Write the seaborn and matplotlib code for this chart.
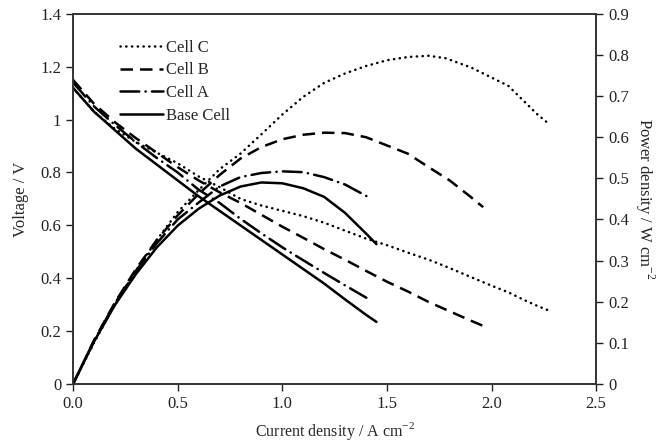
"""
Polarisation and power density curves for base cell and cells A-C.
"""
import matplotlib
matplotlib.use("Agg")
import matplotlib.pyplot as plt
import seaborn as sns
import pandas as pd

# current density / A cm-2, voltage / V, power density / W cm-2
base_i = [0.0, 0.1, 0.2, 0.3, 0.4, 0.5, 0.6, 0.7, 0.8, 0.9, 1.0, 1.1, 1.2, 1.3, 1.4, 1.45]
base_v = [1.12, 1.03, 0.96, 0.89, 0.83, 0.77, 0.71, 0.655, 0.60, 0.545, 0.49, 0.435, 0.38, 0.32, 0.262, 0.235]
base_p = [0.0, 0.103, 0.192, 0.267, 0.332, 0.385, 0.426, 0.458, 0.48, 0.49, 0.488, 0.476, 0.455, 0.416, 0.366, 0.34]

a_i = [0.0, 0.1, 0.2, 0.3, 0.4, 0.5, 0.6, 0.7, 0.8, 0.9, 1.0, 1.1, 1.2, 1.3, 1.42]
a_v = [1.14, 1.05, 0.98, 0.915, 0.855, 0.80, 0.735, 0.685, 0.625, 0.57, 0.517, 0.468, 0.42, 0.373, 0.318]
a_p = [0.0, 0.105, 0.196, 0.275, 0.342, 0.40, 0.441, 0.48, 0.503, 0.513, 0.517, 0.515, 0.503, 0.485, 0.452]

b_i = [0.0, 0.1, 0.2, 0.3, 0.4, 0.5, 0.6, 0.7, 0.8, 0.9, 1.0, 1.1, 1.2, 1.3, 1.4, 1.5,
       1.6, 1.7, 1.8, 1.9, 1.96]
b_v = [1.15, 1.06, 0.99, 0.93, 0.875, 0.82, 0.77, 0.725, 0.685, 0.64, 0.595, 0.553, 0.51, 0.47,
       0.428, 0.387, 0.35, 0.31, 0.275, 0.24, 0.22]
b_p = [0.0, 0.106, 0.198, 0.279, 0.35, 0.41, 0.462, 0.508, 0.548, 0.576, 0.595, 0.606, 0.611,
       0.61, 0.60, 0.58, 0.56, 0.527, 0.495, 0.455, 0.43]

c_i = [0.0, 0.1, 0.2, 0.3, 0.4, 0.5, 0.6, 0.7, 0.8, 0.9, 1.0, 1.1, 1.2, 1.3, 1.4, 1.5,
       1.6, 1.7, 1.78, 1.9, 2.0, 2.08, 2.15, 2.22, 2.28]
c_v = [1.12, 1.03, 0.965, 0.915, 0.875, 0.835, 0.785, 0.745, 0.70, 0.675, 0.655, 0.635, 0.61,
       0.58, 0.55, 0.525, 0.497, 0.47, 0.445, 0.405, 0.372, 0.347, 0.32, 0.295, 0.276]
c_p = [0.0, 0.10, 0.193, 0.275, 0.35, 0.418, 0.471, 0.522, 0.56, 0.607, 0.655, 0.698, 0.732,
       0.755, 0.773, 0.787, 0.795, 0.798, 0.792, 0.77, 0.745, 0.725, 0.69, 0.655, 0.63]

labels = ["Cell C", "Cell B", "Cell A", "Base Cell"]
x_ticks = [0.0, 0.5, 1.0, 1.5, 2.0, 2.5]
x_ticklabels = ["0.0", "0.5", "1.0", "1.5", "2.0", "2.5"]
v_ticks = [0, 0.2, 0.4, 0.6, 0.8, 1.0, 1.2, 1.4]
v_ticklabels = ["0", "0.2", "0.4", "0.6", "0.8", "1", "1.2", "1.4"]
p_ticks = [0, 0.1, 0.2, 0.3, 0.4, 0.5, 0.6, 0.7, 0.8, 0.9]
p_ticklabels = ["0", "0.1", "0.2", "0.3", "0.4", "0.5", "0.6", "0.7", "0.8", "0.9"]

sns.set_style("ticks")
plt.rcParams["font.family"] = ["Liberation Serif", "DejaVu Serif"]
plt.rcParams["mathtext.fontset"] = "custom"
plt.rcParams["mathtext.rm"] = "Liberation Serif"

styles = {
    "Cell C": dict(dashes=(0.1, 2.2), capstyle="round"),
    "Cell B": dict(dashes=(5.0, 2.8), capstyle="butt"),
    "Cell A": dict(dashes=(7.5, 2.5, 0.1, 2.5), capstyle="round"),
    "Base Cell": dict(dashes=None, capstyle="butt"),
}
series = {
    "Cell C": (c_i, c_v, c_p),
    "Cell B": (b_i, b_v, b_p),
    "Cell A": (a_i, a_v, a_p),
    "Base Cell": (base_i, base_v, base_p),
}

fig, ax = plt.subplots(figsize=(6.58, 4.45), dpi=100)
fig.subplots_adjust(left=0.111, right=0.906, bottom=0.137, top=0.969)
ax2 = ax.twinx()

for name in labels:
    cur, volt, powr = series[name]
    df = pd.DataFrame({"i": cur, "v": volt, "p": powr})
    st = styles[name]
    sns.lineplot(data=df, x="i", y="v", ax=ax, color="black", lw=1.8, sort=False, legend=False)
    sns.lineplot(data=df, x="i", y="p", ax=ax2, color="black", lw=1.8, sort=False, legend=False)
    for line in (ax.lines[-1], ax2.lines[-1]):
        if st["dashes"] is not None:
            line.set_dashes(st["dashes"])
        line.set_dash_capstyle(st["capstyle"])

ax.set_xlim(0, 2.5)
ax.set_ylim(0, 1.4)
ax2.set_ylim(0, 0.9)
ax.set_xticks(x_ticks)
ax.set_xticklabels(x_ticklabels)
ax.set_yticks(v_ticks)
ax.set_yticklabels(v_ticklabels)
ax2.set_yticks(p_ticks)
ax2.set_yticklabels(p_ticklabels)

for a in (ax, ax2):
    a.tick_params(labelsize=12, colors="#222222", length=5, width=1, direction="out")
    for s in a.spines.values():
        s.set_visible(True)
        s.set_color("#333333")
        s.set_linewidth(1.2)

ax.set_xlabel("Current density / A cm$^{-2}$", fontsize=11.5, labelpad=6)
ax.set_ylabel("Voltage / V", fontsize=12, labelpad=8)
ax2.set_ylabel("Power density / W cm$^{-2}$", fontsize=12, rotation=270, labelpad=20)

handles = ax.lines[:4]
ax.legend(handles, labels, loc="upper left", bbox_to_anchor=(0.09, 0.93), frameon=False,
          fontsize=12, handlelength=2.6, handletextpad=0.15, labelspacing=0.4,
          borderaxespad=0, borderpad=0)

plt.savefig("out.png", dpi=100)
plt.close()
